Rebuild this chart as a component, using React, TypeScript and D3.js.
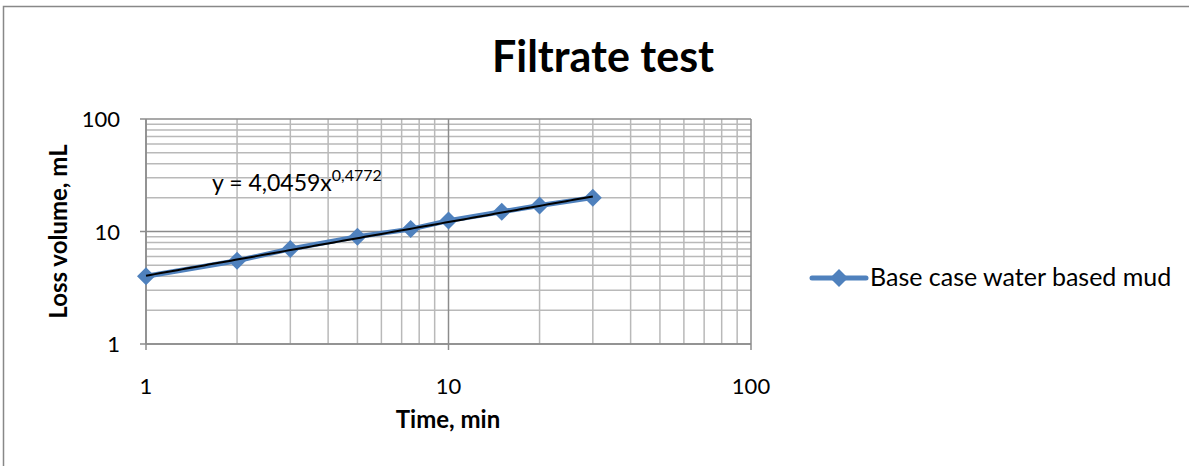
import React from "react";
import * as d3 from "d3";

// Filtration test measurements
const timeMin = [1, 2, 3, 5, 7.5, 10, 15, 20, 30];
const lossVolume = [4, 5.5, 7, 9, 10.5, 12.5, 15, 17, 20];
const seriesName = "Base case water based mud";

// Power-law trendline y = a * x^b
const trendA = 4.0459;
const trendB = 0.4772;
const trendLabelA = "4,0459";
const trendLabelB = "0,4772";

const xTicks = [1, 10, 100];
const yTicks = [1, 10, 100];

const W = 1189;
const H = 466;
const FONT = "Lato, 'Open Sans', sans-serif";

export default function App() {
  const left = 146;
  const right = 751;
  const top = 119;
  const bottom = 344;

  const x = d3.scaleLog().domain([1, 100]).range([left, right]);
  const y = d3.scaleLog().domain([1, 100]).range([bottom, top]);

  // minor gridline values for each decade
  const minors: number[] = [];
  [1, 10].forEach((d) => {
    for (let k = 2; k <= 9; k++) minors.push(d * k);
  });

  const line = d3
    .line<number>()
    .x((_, i) => x(timeMin[i]))
    .y((v) => y(v));

  const trendXs = d3.range(0, 101).map((i) => Math.pow(10, (Math.log10(30) * i) / 100));
  const trendLine = d3
    .line<number>()
    .x((t) => x(t))
    .y((t) => y(trendA * Math.pow(t, trendB)));

  const diamond = (cx: number, cy: number, r: number) =>
    `M${cx},${cy - r}L${cx + r},${cy}L${cx},${cy + r}L${cx - r},${cy}Z`;

  const gridColor = "#b9b9b9";
  const majorColor = "#8c8c8c";
  const blue = "#4f81bd";

  return (
    <svg
      width={W}
      height={H}
      style={{ position: "absolute", left: 0, top: 0, background: "#fff" }}
    >
      <rect x={3.5} y={6.5} width={1300} height={600} fill="#fff" stroke="#888" strokeWidth={1.5} />

      <text x={603} y={72} textAnchor="middle" fontFamily={FONT} fontWeight="bold" fontSize={43} fill="#000">
        Filtrate test
      </text>

      {/* minor gridlines */}
      {minors.map((v) => (
        <line key={"gx" + v} x1={x(v)} x2={x(v)} y1={top} y2={bottom} stroke={gridColor} strokeWidth={1.5} />
      ))}
      {minors.map((v) => (
        <line key={"gy" + v} x1={left} x2={right} y1={y(v)} y2={y(v)} stroke={gridColor} strokeWidth={1.5} />
      ))}
      {/* major gridlines */}
      {xTicks.map((v) => (
        <line key={"mx" + v} x1={x(v)} x2={x(v)} y1={top} y2={bottom + 6} stroke={majorColor} strokeWidth={1.5} />
      ))}
      {yTicks.map((v) => (
        <line key={"my" + v} x1={left - 6} x2={right} y1={y(v)} y2={y(v)} stroke={majorColor} strokeWidth={1.5} />
      ))}

      {/* axes */}
      <line x1={left} x2={left} y1={top} y2={bottom} stroke={majorColor} strokeWidth={1.5} />
      <line x1={left} x2={right} y1={bottom} y2={bottom} stroke={majorColor} strokeWidth={1.5} />

      {/* tick labels */}
      {yTicks.map((v) => (
        <text key={"yl" + v} x={left - 26} y={y(v) + 8} textAnchor="end" fontFamily={FONT} fontSize={22} fill="#000">
          {v}
        </text>
      ))}
      {xTicks.map((v) => (
        <text key={"xl" + v} x={x(v)} y={bottom + 50} textAnchor="middle" fontFamily={FONT} fontSize={22} fill="#000">
          {v}
        </text>
      ))}

      {/* axis titles */}
      <text x={448} y={428} textAnchor="middle" fontFamily={FONT} fontWeight="bold" fontSize={24} fill="#000">
        Time, min
      </text>
      <text
        transform={`translate(67, ${(top + bottom) / 2}) rotate(-90)`}
        textAnchor="middle"
        fontFamily={FONT}
        fontWeight="bold"
        fontSize={24}
        fill="#000"
      >
        Loss volume, mL
      </text>

      {/* data series */}
      <path d={line(lossVolume) || ""} fill="none" stroke={blue} strokeWidth={5} strokeLinejoin="round" />
      {lossVolume.map((v, i) => (
        <path key={"m" + i} d={diamond(x(timeMin[i]), y(v), 9)} fill={blue} />
      ))}

      {/* trendline */}
      <path d={trendLine(trendXs) || ""} fill="none" stroke="#000" strokeWidth={2} />
      <text x={212} y={191} fontFamily={FONT} fontSize={23} fill="#000">
        {`y = ${trendLabelA}x`}
        <tspan dy={-10} fontSize={16}>
          {trendLabelB}
        </tspan>
      </text>

      {/* legend */}
      <line x1={812} x2={866} y1={278} y2={278} stroke={blue} strokeWidth={5} strokeLinecap="round" />
      <path d={diamond(839, 278, 9)} fill={blue} />
      <text x={870} y={286} fontFamily={FONT} fontSize={25} fill="#000">
        {seriesName}
      </text>
    </svg>
  );
}
